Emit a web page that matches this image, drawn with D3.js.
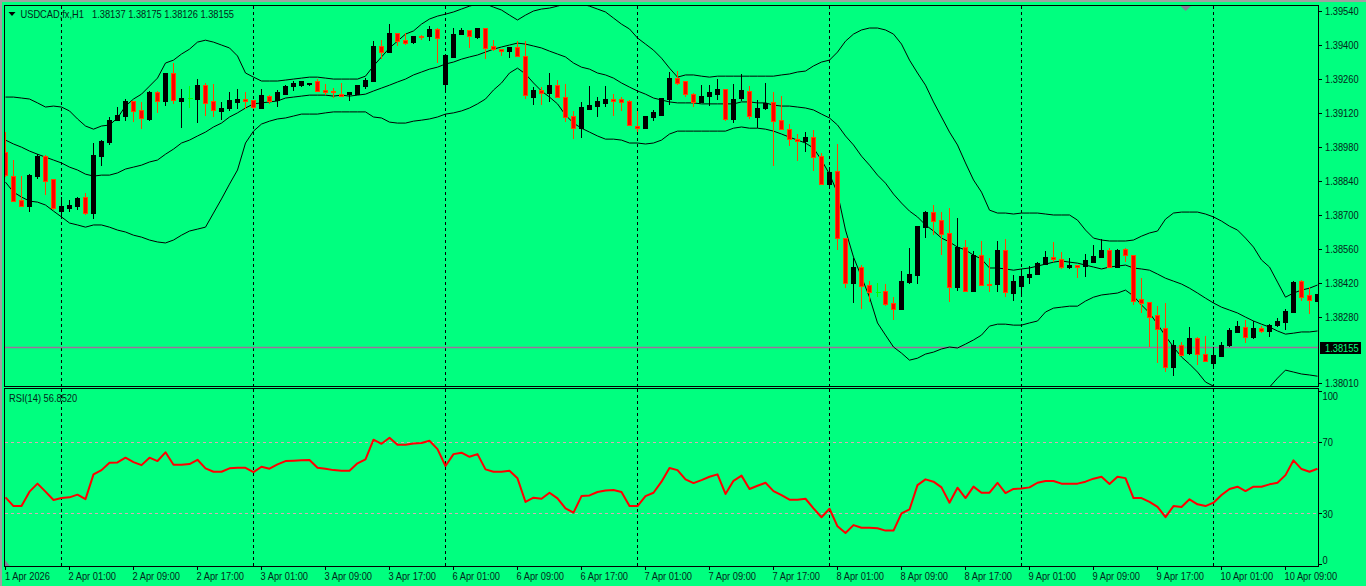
<!DOCTYPE html>
<html>
<head>
<meta charset="utf-8">
<script src="https://cdn.jsdelivr.net/npm/d3@7"></script>
<style>
  html, body { margin: 0; padding: 0; background: #00ff7f; overflow: hidden; }
  text { font-family: "Liberation Sans", Arial, sans-serif; font-size: 10.5px; fill: #04261a; }
</style>
</head>
<body>
<div id="chart"></div>
<script>
// all prices in 1/100000, 165 hourly bars
const opens = [138960,138861,138762,138737,138861,138943,138845,138717,138729,138737,138774,138709,138943,139001,139091,139104,139166,139129,139091,139203,139166,139281,139170,139182,139178,139235,139166,139129,139137,139166,139178,139170,139141,139190,139170,139198,139227,139231,139235,139248,139211,139207,139198,139194,139198,139231,139252,139396,139371,139449,139420,139412,139437,139433,139462,139240,139351,139441,139458,139433,139470,139392,139383,139371,139388,139351,139186,139215,139203,139235,139186,139108,139058,139137,139145,139162,139178,139174,139166,139067,139058,139100,139112,139178,139264,139248,139198,139166,139186,139198,139219,139096,139178,139207,139104,139137,139162,139091,139054,139013,139005,139021,138943,138825,138878,138606,138421,138487,138413,138384,138388,138339,138314,138425,138454,138651,138713,138680,138626,138405,138569,138388,138536,138417,138417,138557,138380,138408,138446,138458,138499,138528,138520,138487,138495,138487,138508,138528,138557,138487,138561,138536,138355,138343,138289,138236,138075,138166,138129,138191,138129,138092,138121,138162,138220,138240,138199,138236,138224,138244,138261,138302,138429,138368,138343];
const highs = [139042,138927,138861,138869,138951,138947,138845,138774,138762,138774,138791,138997,139009,139104,139145,139178,139166,139166,139211,139211,139281,139326,139219,139231,139260,139244,139240,139166,139207,139219,139207,139170,139219,139194,139215,139235,139252,139252,139244,139260,139240,139223,139244,139203,139235,139264,139416,139420,139486,139449,139449,139437,139441,139478,139470,139359,139470,139470,139458,139470,139470,139420,139383,139392,139416,139416,139227,139227,139285,139256,139240,139129,139166,139231,139186,139231,139198,139186,139174,139129,139108,139133,139182,139289,139293,139248,139203,139235,139235,139260,139219,139240,139281,139231,139174,139244,139207,139190,139075,139034,139042,139050,138956,138898,138993,138606,138524,138495,138429,138421,138417,138363,138470,138565,138655,138717,138741,138713,138729,138688,138598,138553,138594,138524,138594,138602,138454,138478,138491,138507,138553,138590,138549,138524,138495,138540,138577,138602,138565,138561,138565,138536,138441,138343,138326,138339,138187,138179,138240,138199,138203,138158,138179,138236,138265,138269,138265,138244,138252,138277,138314,138429,138433,138405,138372];
const lows = [138857,138754,138733,138713,138849,138783,138721,138688,138713,138721,138700,138684,138902,138989,139087,139087,139083,139054,139087,139121,139149,139158,139058,139141,139079,139108,139104,139091,139129,139137,139137,139137,139141,139158,139145,139198,139211,139227,139231,139207,139194,139182,139190,139170,139198,139219,139252,139342,139367,139396,139400,139404,139420,139416,139326,139207,139346,139441,139388,139425,139342,139375,139355,139346,139351,139178,139153,139153,139166,139182,139083,139013,139017,139137,139104,139145,139108,139129,139067,139042,139058,139087,139112,139153,139235,139186,139145,139166,139149,139174,139087,139079,139170,139096,139058,139133,138902,139050,138984,138923,138960,138882,138829,138820,138557,138400,138339,138314,138343,138363,138326,138269,138314,138417,138417,138606,138618,138536,138343,138388,138388,138388,138413,138384,138384,138363,138347,138363,138417,138454,138495,138508,138478,138478,138441,138445,138503,138524,138487,138487,138508,138330,138298,138158,138092,138055,138038,138121,138125,138084,138100,138071,138121,138158,138220,138174,138191,138215,138199,138240,138228,138298,138347,138294,138343];
const closes = [138865,138758,138737,138865,138943,138841,138725,138737,138741,138770,138709,138947,139005,139091,139112,139166,139125,139096,139203,139166,139281,139170,139182,139182,139235,139162,139129,139141,139170,139178,139170,139141,139194,139170,139203,139231,139240,139248,139240,139207,139203,139203,139190,139203,139235,139256,139396,139371,139449,139416,139408,139437,139433,139462,139425,139359,139445,139458,139433,139470,139388,139379,139375,139388,139351,139190,139215,139203,139235,139186,139104,139058,139145,139153,139166,139178,139170,139162,139067,139058,139108,139121,139182,139264,139244,139194,139166,139190,139203,139219,139096,139178,139211,139104,139141,139158,139083,139054,139013,139005,139021,138939,138829,138874,138602,138421,138487,138409,138384,138384,138335,138314,138429,138458,138655,138713,138676,138622,138405,138569,138388,138536,138413,138413,138557,138384,138429,138450,138458,138503,138528,138520,138487,138495,138487,138512,138532,138557,138487,138557,138536,138347,138339,138281,138232,138075,138166,138125,138191,138125,138100,138125,138166,138224,138244,138199,138236,138224,138248,138261,138306,138425,138363,138347,138372];

// bollinger bands(20), same unit
const bbUpper = [139186,139186,139182,139178,139162,139145,139149,139145,139129,139096,139067,139054,139067,139071,139100,139149,139178,139198,139231,139264,139326,139338,139363,139383,139412,139420,139412,139400,139388,139355,139285,139268,139252,139252,139252,139256,139260,139264,139268,139268,139264,139260,139260,139260,139260,139272,139314,139351,139388,139416,139445,139458,139486,139507,139519,139527,139536,139548,139560,139569,139569,139556,139544,139523,139503,139523,139540,139548,139552,139560,139569,139569,139569,139560,139548,139536,139511,139486,139466,139429,139404,139379,139346,139305,139268,139277,139277,139272,139268,139272,139272,139272,139272,139272,139272,139272,139272,139277,139281,139289,139293,139314,139330,139338,139371,139416,139445,139462,139470,139470,139462,139445,139404,139338,139285,139235,139166,139104,139042,138989,138915,138845,138795,138721,138709,138709,138705,138709,138709,138709,138705,138701,138701,138701,138680,138639,138606,138598,138594,138594,138594,138598,138614,138627,138635,138684,138709,138713,138713,138713,138705,138693,138676,138655,138639,138606,138569,138516,138487,138425,138363,138380,138392,138400,138413];
const bbMiddle = [139009,138993,138980,138964,138951,138939,138927,138915,138898,138886,138869,138861,138865,138865,138874,138890,138898,138906,138919,138927,138951,138972,138997,139009,139026,139042,139063,139079,139104,139121,139141,139158,139162,139166,139170,139182,139186,139190,139194,139194,139194,139190,139194,139190,139194,139198,139211,139223,139235,139248,139260,139277,139289,139301,139309,139322,139330,139342,139351,139359,139371,139383,139392,139400,139408,139404,139396,139388,139375,139363,139351,139326,139309,139301,139285,139277,139264,139244,139227,139211,139198,139182,139174,139166,139162,139162,139162,139158,139158,139158,139158,139158,139166,139166,139162,139162,139153,139149,139149,139145,139141,139133,139116,139100,139071,139026,138989,138943,138906,138865,138832,138787,138750,138717,138693,138660,138635,138606,138590,138569,138557,138536,138520,138483,138483,138479,138474,138479,138483,138491,138499,138507,138512,138507,138503,138495,138487,138479,138487,138491,138495,138483,138479,138474,138458,138441,138429,138417,138400,138380,138359,138339,138322,138310,138298,138281,138265,138252,138240,138224,138211,138215,138220,138220,138224];
const bbLower = [138836,138795,138775,138758,138754,138742,138717,138693,138668,138660,138651,138660,138660,138651,138639,138631,138618,138610,138598,138590,138586,138598,138618,138635,138643,138651,138709,138767,138828,138886,138997,139046,139075,139087,139096,139100,139108,139116,139116,139116,139121,139125,139125,139125,139125,139125,139104,139100,139083,139079,139079,139087,139091,139096,139104,139116,139121,139129,139141,139158,139178,139215,139244,139285,139305,139281,139244,139211,139186,139158,139112,139079,139058,139042,139026,139013,139013,139009,138997,138997,138993,138997,139009,139034,139046,139046,139046,139046,139046,139046,139046,139058,139063,139058,139058,139054,139046,139034,139021,139009,138997,138976,138927,138869,138791,138639,138528,138446,138363,138257,138207,138158,138133,138104,138112,138129,138137,138150,138158,138154,138170,138187,138207,138244,138252,138252,138248,138248,138257,138265,138302,138318,138322,138326,138326,138347,138363,138372,138376,138380,138392,138368,138331,138298,138252,138203,138158,138117,138088,138055,138014,137997,137973,137952,137940,137940,137948,137969,137993,138030,138063,138055,138047,138043,138038];

const rsi = [39.1,34.2,34.2,42.3,46.8,42.3,37.6,38.7,39.1,40.6,38.1,52.0,54.4,58.6,58.7,61.4,58.9,57.2,61.4,59.5,64.4,57.4,57.4,57.8,60.2,55.4,53.5,53.5,55.4,55.7,55.7,53.3,56.3,55.2,57.6,59.5,59.7,59.9,60.1,55.7,55.2,54.4,54.1,54.1,58.2,60.4,71.5,69.2,72.6,68.7,68.7,69.4,69.6,70.9,66.2,56.7,63.4,64.2,61.9,63.4,54.8,53.5,53.5,54.1,49.8,36.5,38.9,38.3,41.7,38.5,32.9,30.5,39.8,40.2,42.1,43.0,43.2,42.1,34.2,34.2,39.8,41.7,47.9,55.6,54.4,49.2,47.1,48.8,50.7,52.0,41.0,48.4,51.3,43.8,45.6,47.3,42.6,40.4,37.8,37.8,38.3,32.9,27.9,32.7,22.8,19.1,23.5,22.0,22.0,21.7,20.4,20.4,30.1,32.3,46.0,49.2,47.9,44.7,36.1,44.5,38.7,45.1,41.7,41.7,47.3,41.5,43.8,44.1,44.7,47.3,48.3,48.3,46.8,46.8,46.8,47.9,49.6,50.7,46.6,50.7,49.9,38.7,38.7,36.5,33.8,28.0,34.2,33.7,38.0,35.2,34.2,36.1,40.4,43.8,45.1,42.6,45.1,45.1,46.4,47.3,51.6,59.9,55.0,53.5,55.2];

const priceTicks = [139540,139400,139260,139120,138980,138840,138700,138560,138420,138280,138010];
const rsiLevels = [70, 30];
const rsiTicks = [100, 70, 30, 0];
const timeTicks = [
  [0,'1 Apr 2026'],[8,'2 Apr 01:00'],[16,'2 Apr 09:00'],[24,'2 Apr 17:00'],[32,'3 Apr 01:00'],
  [40,'3 Apr 09:00'],[48,'3 Apr 17:00'],[56,'6 Apr 01:00'],[64,'6 Apr 09:00'],[72,'6 Apr 17:00'],
  [80,'7 Apr 01:00'],[88,'7 Apr 09:00'],[96,'7 Apr 17:00'],[104,'8 Apr 01:00'],[112,'8 Apr 09:00'],
  [120,'8 Apr 17:00'],[128,'9 Apr 01:00'],[136,'9 Apr 09:00'],[144,'9 Apr 17:00'],[152,'10 Apr 01:00'],
  [160,'10 Apr 09:00']];
const separators = [7, 31, 55, 79, 103, 127, 151];
const lastPrice = 138155;
const ohlcLabel = '1.38137 1.38175 1.38126 1.38155';

const width = 1366, height = 586;
const plotLeft = 4.5, plotRight = 1318.5, plotTop = 5.5, mainBottom = 386.5, rsiTop = 388.5, rsiBottom = 566.5;

const x = d3.scaleLinear().domain([0, 164]).range([5.5, 1317.5]);
const y = d3.scaleLinear().domain([139540, 138010]).range([11, 383]);
const yRsi = d3.scaleLinear().domain([100, 0]).range([389, 566.9]);
const snap = v => Math.round(v - 0.5) + 0.5;
const fmt = v => (v / 100000).toFixed(5);

const svg = d3.select('#chart').append('svg')
  .attr('width', width).attr('height', height)
  .style('display', 'block');

// terminal font is narrower than what we have, so squeeze a little
const label = (tx, ty, str) => svg.append('text')
  .attr('transform', `translate(${tx},${ty}) scale(0.885,1)`)
  .text(str);

svg.append('rect').attr('width', width).attr('height', height).attr('fill', '#00ff7f');
// window frame
svg.append('rect').attr('width', width).attr('height', 2).attr('fill', '#a0a0a0');
svg.append('rect').attr('width', 2).attr('height', height).attr('fill', '#a0a0a0');

const defs = svg.append('defs');
defs.append('clipPath').attr('id', 'mainClip').append('rect')
  .attr('x', plotLeft).attr('y', plotTop).attr('width', plotRight - plotLeft).attr('height', mainBottom - plotTop);
defs.append('clipPath').attr('id', 'rsiClip').append('rect')
  .attr('x', plotLeft).attr('y', rsiTop).attr('width', plotRight - plotLeft).attr('height', rsiBottom - rsiTop);

const main = svg.append('g').attr('clip-path', 'url(#mainClip)');
const sub = svg.append('g').attr('clip-path', 'url(#rsiClip)');

// period separators go through both windows
[main, sub].forEach((g, k) => {
  g.selectAll('line.sep').data(separators).join('line')
    .attr('class', 'sep')
    .attr('x1', d => x(d)).attr('x2', d => x(d))
    .attr('y1', k ? rsiTop : plotTop).attr('y2', k ? rsiBottom : mainBottom)
    .attr('stroke', '#000').attr('stroke-dasharray', '3,3').attr('shape-rendering', 'crispEdges');
});

// current price line
main.append('line')
  .attr('x1', plotLeft).attr('x2', plotRight)
  .attr('y1', snap(y(lastPrice))).attr('y2', snap(y(lastPrice)))
  .attr('stroke', '#a0709c').attr('stroke-width', 1.4);

// bollinger
const bandLine = d3.line().x((d, i) => x(i)).y(d => y(d));
[bbUpper, bbMiddle, bbLower].forEach(s => {
  main.append('path').attr('d', bandLine(s))
    .attr('fill', 'none').attr('stroke', '#000').attr('stroke-width', 1);
});

// candles
const bars = d3.range(opens.length).map(i => ({ i, o: opens[i], h: highs[i], l: lows[i], c: closes[i] }));
const barColor = d => d.o === d.c ? '#00ff00' : d.c > d.o ? '#000000' : '#ff4500';

main.selectAll('line.wick').data(bars).join('line')
  .attr('class', 'wick')
  .attr('x1', d => x(d.i)).attr('x2', d => x(d.i))
  .attr('y1', d => y(d.h)).attr('y2', d => y(d.l))
  .attr('stroke', barColor).attr('shape-rendering', 'crispEdges');

main.selectAll('rect.body').data(bars.filter(d => d.o !== d.c)).join('rect')
  .attr('class', 'body')
  .attr('x', d => x(d.i) - 2)
  .attr('width', 4)
  .attr('y', d => snap(y(Math.max(d.o, d.c))))
  .attr('height', d => Math.max(1, Math.round(y(Math.min(d.o, d.c)) - y(Math.max(d.o, d.c)))))
  .attr('fill', d => d.c > d.o ? '#000000' : '#ff0000')
  .attr('stroke', barColor).attr('shape-rendering', 'crispEdges');

main.selectAll('line.doji').data(bars.filter(d => d.o === d.c)).join('line')
  .attr('class', 'doji')
  .attr('x1', d => x(d.i) - 2).attr('x2', d => x(d.i) + 3)
  .attr('y1', d => snap(y(d.o))).attr('y2', d => snap(y(d.o)))
  .attr('stroke', barColor).attr('shape-rendering', 'crispEdges');

// rsi levels and line
sub.selectAll('line.level').data(rsiLevels).join('line')
  .attr('class', 'level')
  .attr('x1', plotLeft).attr('x2', plotRight)
  .attr('y1', d => snap(yRsi(d))).attr('y2', d => snap(yRsi(d)))
  .attr('stroke', '#d8a8b4').attr('stroke-dasharray', '3,3').attr('shape-rendering', 'crispEdges');

sub.append('path')
  .attr('d', d3.line().x((d, i) => x(i)).y(d => yRsi(d))(rsi))
  .attr('fill', 'none').attr('stroke', '#ff0000').attr('stroke-width', 2).attr('stroke-linejoin', 'round');

// window borders
const frame = [[plotTop, mainBottom], [rsiTop, rsiBottom]];
svg.selectAll('rect.frame').data(frame).join('rect')
  .attr('class', 'frame')
  .attr('x', plotLeft).attr('y', d => d[0])
  .attr('width', plotRight - plotLeft).attr('height', d => d[1] - d[0])
  .attr('fill', 'none').attr('stroke', '#000').attr('shape-rendering', 'crispEdges');

// price axis
priceTicks.forEach(p => {
  svg.append('line')
    .attr('x1', plotRight).attr('x2', plotRight + 3)
    .attr('y1', snap(y(p))).attr('y2', snap(y(p)))
    .attr('stroke', '#000').attr('shape-rendering', 'crispEdges');
  label(1325, y(p) + 4, fmt(p));
});

// last price tag
svg.append('rect').attr('x', 1320).attr('y', 342).attr('width', 41).attr('height', 12).attr('fill', '#000');
label(1325, 352, fmt(lastPrice)).style('fill', '#00ff7f');

// rsi axis, end labels sit inside the window like the terminal does
rsiTicks.forEach(v => {
  const ty = v === 100 ? yRsi(v) + 2 : v === 0 ? yRsi(v) - 2 : yRsi(v);
  svg.append('line')
    .attr('x1', plotRight).attr('x2', plotRight + 3)
    .attr('y1', snap(ty)).attr('y2', snap(ty))
    .attr('stroke', '#000').attr('shape-rendering', 'crispEdges');
  const ly = v === 100 ? 399.5 : v === 0 ? 563.5 : yRsi(v) + 4;
  label(1322.5, ly, v);
});

// time axis
timeTicks.forEach(([i, str]) => {
  const tx = i === 0 ? 5.5 : x(i);
  svg.append('line')
    .attr('x1', tx).attr('x2', tx).attr('y1', rsiBottom).attr('y2', rsiBottom + 3)
    .attr('stroke', '#000').attr('shape-rendering', 'crispEdges');
  label(i === 0 ? 5 : tx - 1, 580, str);
});

// header texts
svg.append('path').attr('d', 'M8.5 12 L15.5 12 L12 16 Z').attr('fill', '#000');
label(20.5, 17.5, 'USDCAD,fx,H1');
label(92, 17.5, ohlcLabel);
label(9, 401.5, 'RSI(14) 56.8520');

// small grey markers
svg.append('path').attr('d', 'M1180.5 6 L1191 6 L1185.7 11 Z').attr('fill', '#808098');
svg.append('path').attr('d', 'M5 560 L10 566 L5 566 Z').attr('fill', '#808098');
</script>
</body>
</html>
